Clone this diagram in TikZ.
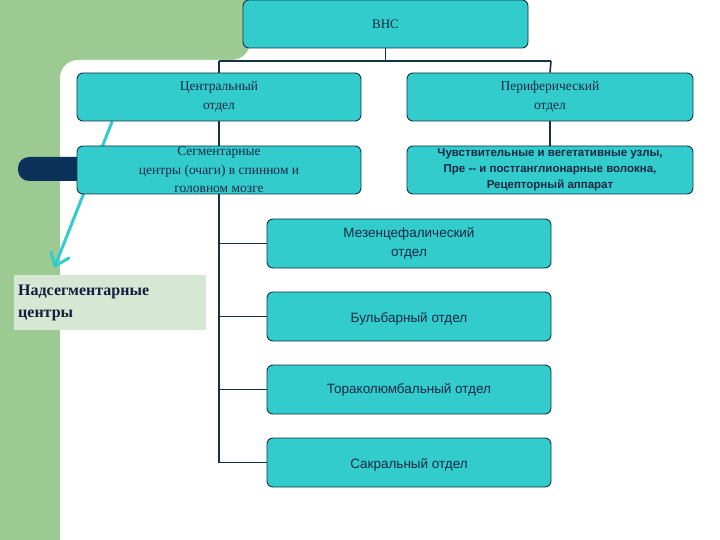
\documentclass[tikz,border=0pt]{standalone}
\usepackage{fontspec}
\setmainfont{Liberation Serif}
\newfontfamily\sans{Liberation Sans}
\definecolor{bg}{HTML}{9DC993}
\definecolor{bxf}{HTML}{33CCCC}
\definecolor{bxd}{RGB}{20,50,70}
\definecolor{navy}{RGB}{10,50,90}
\definecolor{nadf}{RGB}{214,232,212}
\definecolor{nadt}{RGB}{20,30,60}
\definecolor{txt}{RGB}{20,40,70}
\begin{document}
\begin{tikzpicture}[x=1pt,y=-1pt,
  bx/.style={draw=bxd,line width=0.9pt,fill=bxf,rounded corners=6pt,text=txt,align=center,inner sep=0pt},
  ln/.style={draw=bxd,line width=1.6pt}]
\useasboundingbox (0,0) rectangle (720,540);
\fill[bg] (0,0) rectangle (720,540);
\fill[white,rounded corners=18pt] (60,60) -- (60,560) -- (740,560) -- (740,-20) -- (250,-20) -- (250,60) -- cycle;
\fill[white] (60,80) rectangle (740,560);
\fill[white] (250,-5) rectangle (740,60);
% dark bar
\fill[navy,rounded corners=11pt] (18,157) rectangle (120,181);
% arrow
\coordinate (a1) at (112,122); \coordinate (a2) at (55,266);
\draw[draw=bxf,line width=3pt,line cap=round] (a1) -- (a2);
\draw[draw=bxf,line width=3pt,line cap=round] (a2) -- ++(-4,-14) (a2) -- ++(14,-8);
\node[bx,minimum width=285pt,minimum height=48pt,font=\fontsize{13}{15}\selectfont] (vns) at (385.5,24) {ВНС};
\node[bx,minimum width=284pt,minimum height=48pt,font=\fontsize{13.5}{19}\selectfont] (cen) at (219,97) {Центральный\\отдел};
\node[bx,minimum width=286pt,minimum height=48pt,font=\fontsize{13.5}{19}\selectfont] (per) at (550,97) {Периферический\\отдел};
\node[bx,minimum width=284pt,minimum height=48pt,font=\fontsize{13.5}{18.5}\selectfont] (seg) at (219,170) {Сегментарные\\центры (очаги) в спинном и\\головном мозге};
\node[bx,minimum width=286pt,minimum height=48pt,font=\sans\bfseries\fontsize{11.5}{16}\selectfont] (chu) at (550,170) {Чувствительные и вегетативные узлы,\\Пре -- и постганглионарные волокна,\\Рецепторный аппарат};
\node[bx,minimum width=284pt,minimum height=49pt,font=\sans\fontsize{13.5}{19}\selectfont] (mez) at (409,243.5) {Мезенцефалический\\отдел};
\node[bx,minimum width=284pt,minimum height=49pt,font=\sans\fontsize{13.5}{16}\selectfont] (bul) at (409,316.5) {\\[-2pt]Бульбарный отдел};
\node[bx,minimum width=284pt,minimum height=49pt,font=\sans\fontsize{13.5}{16}\selectfont] (tor) at (409,389.5) {Тораколюмбальный отдел};
\node[bx,minimum width=284pt,minimum height=49pt,font=\sans\fontsize{13.5}{16}\selectfont] (sak) at (409,462.5) {\\[-2pt]Сакральный отдел};
\node[fill=nadf,minimum width=192pt,minimum height=55pt,anchor=north west,align=left,text width=184pt,font=\bfseries\fontsize{16}{22}\selectfont,text=nadt,inner sep=4pt] (nad) at (14,275) {Надсегментарные\\центры};
\coordinate (j) at (385.5,61);
\draw[ln] (vns.south) -- (j);
\draw[ln] (219,61) -- (551,61);
\draw[ln] (219,61) -- (cen.north);
\draw[ln] (551,61) -- (per.north);
\draw[ln] (cen.south) -- (seg.north);
\draw[ln] (per.south) -- (chu.north);
\draw[ln] (seg.south) -- (219,463);
\draw[ln] (219,243.5) -- (mez.west);
\draw[ln] (219,316.5) -- (bul.west);
\draw[ln] (219,389.5) -- (tor.west);
\draw[ln] (219,462.5) -- (sak.west);
\end{tikzpicture}
\end{document}
